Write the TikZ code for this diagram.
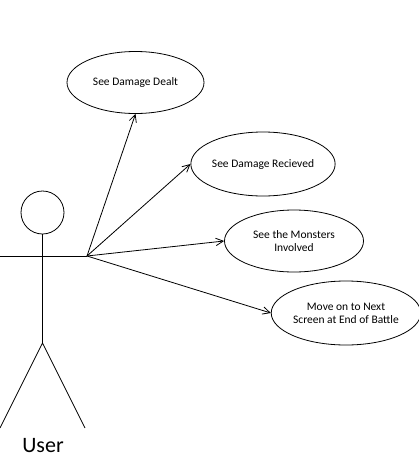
\documentclass[tikz,border=0pt]{standalone}
\usepackage{fontspec}
\setmainfont{Carlito}
\usetikzlibrary{arrows.meta,shapes.geometric}

\begin{document}
\begin{tikzpicture}[
    x=1pt, y=-1pt,
    line width=0.8pt,
    usecase/.style={draw, ellipse, minimum width=137pt, minimum height=62pt,
                    inner sep=0pt, align=center, font=\fontsize{11.5}{13}\selectfont},
    actorlbl/.style={font=\fontsize{22}{26}\selectfont},
    assoc/.style={-{Straight Barb[length=2.6mm,width=2.6mm]}},
]
\useasboundingbox (0,0) rectangle (418,463);

% ---- Actor ----------------------------------------------------------------
\node[draw, circle, minimum size=43pt, inner sep=0pt] (head) at (42.5,212.5) {};
\coordinate (hip)   at (42.5,343);
\coordinate (handl) at (0,256);
\coordinate (hand)  at (87,256);
\coordinate (footl) at (0,428);
\coordinate (footr) at (85,428);
\draw (head.south) -- (hip);
\draw (handl) -- (hand);
\draw (footl) -- (hip) -- (footr);
\node[actorlbl] (user) at (43,446) {User};

% ---- Use cases --------------------------------------------------------------
\node[usecase] (dealt)    at (135.5,82.5) {See Damage Dealt};
\node[usecase, minimum height=64pt] (recv) at (263,164) {See Damage Recieved};
\node[usecase, minimum width=139pt] (monsters) at (294,241) {See the Monsters\\Involved};
\node[usecase, minimum width=134pt, minimum height=64pt] (nextscr) at (346,313)
    {Move on to Next\\Screen at End of Battle};

% ---- Associations (actor -> use case) ---------------------------------------
\draw[assoc] (hand) -- (dealt.south);
\draw[assoc] (hand) -- (recv.west);
\draw[assoc] (hand) -- (monsters.west);
\draw[assoc] (hand) -- (nextscr.west);

\end{tikzpicture}
\end{document}
